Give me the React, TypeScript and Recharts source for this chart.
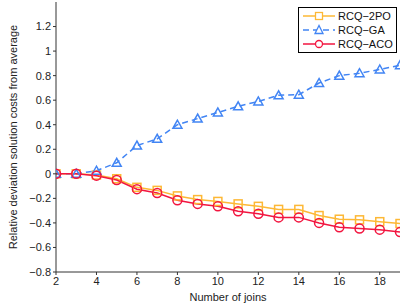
import { LineChart, Line, XAxis, YAxis } from 'recharts';

const joins = [2, 3, 4, 5, 6, 7, 8, 9, 10, 11, 12, 13, 14, 15, 16, 17, 18, 19];
const rcq2po = [0, 0, -0.01, -0.04, -0.11, -0.135, -0.18, -0.21, -0.225, -0.245, -0.265, -0.29, -0.29, -0.34, -0.37, -0.375, -0.39, -0.405];
const rcqGa = [0, 0, 0.025, 0.09, 0.23, 0.285, 0.4, 0.45, 0.5, 0.55, 0.59, 0.64, 0.645, 0.74, 0.8, 0.82, 0.85, 0.885];
const rcqAco = [0, 0, -0.015, -0.05, -0.125, -0.157, -0.215, -0.245, -0.265, -0.305, -0.325, -0.355, -0.355, -0.4, -0.435, -0.445, -0.455, -0.475];
const xTicks = [2, 4, 6, 8, 10, 12, 14, 16, 18];
const yTicks = [-0.8, -0.6, -0.4, -0.2, 0, 0.2, 0.4, 0.6, 0.8, 1, 1.2];

const data = joins.map((j, i) => ({ joins: j, po: rcq2po[i], ga: rcqGa[i], aco: rcqAco[i] }));

const ORANGE = '#FDB835';
const BLUE = '#4285F4';
const RED = '#F2153F';
const FONT = 'Liberation Sans, Arial, sans-serif';

const Square = (props: any) => {
  const { cx, cy, index } = props;
  return <rect key={`s-${index}`} x={cx - 4} y={cy - 4} width={8} height={8} fill="none" stroke={ORANGE} strokeWidth={1.5} />;
};

const Triangle = (props: any) => {
  const { cx, cy, index } = props;
  return (
    <polygon
      key={`t-${index}`}
      points={`${cx},${cy - 4.5} ${cx - 4.5},${cy + 3.5} ${cx + 4.5},${cy + 3.5}`}
      fill="none"
      stroke={BLUE}
      strokeWidth={1.5}
    />
  );
};

const Circle = (props: any) => {
  const { cx, cy, index } = props;
  return <circle key={`c-${index}`} cx={cx} cy={cy} r={4.5} fill="none" stroke={RED} strokeWidth={1.5} />;
};

const legendItems = [
  { name: 'RCQ\u22122PO', color: ORANGE, dash: undefined, marker: 'square' },
  { name: 'RCQ\u2212GA', color: BLUE, dash: '6 4', marker: 'triangle' },
  { name: 'RCQ\u2212ACO', color: RED, dash: undefined, marker: 'circle' },
];

const LegendBox = () => (
  <div
    style={{
      position: 'absolute',
      left: 298,
      top: 7,
      width: 97,
      border: '1.5px solid #000',
      background: '#fff',
      padding: '1px 0',
      fontFamily: FONT,
      fontSize: 11,
      color: '#111',
      lineHeight: '14px',
    }}
  >
    {legendItems.map((it) => (
      <div key={it.name} style={{ display: 'flex', alignItems: 'center' }}>
        <svg width={38} height={14}>
          <line x1={4} y1={7} x2={36} y2={7} stroke={it.color} strokeWidth={1.5} strokeDasharray={it.dash} />
          {it.marker === 'square' && <rect x={16.5} y={3.5} width={7} height={7} fill="#fff" stroke={it.color} strokeWidth={1.3} />}
          {it.marker === 'triangle' && (
            <polygon points="20,2.5 16,10.5 24,10.5" fill="#fff" stroke={it.color} strokeWidth={1.3} />
          )}
          {it.marker === 'circle' && <circle cx={20} cy={7} r={3.5} fill="#fff" stroke={it.color} strokeWidth={1.3} />}
        </svg>
        <span style={{ marginLeft: 1 }}>{it.name}</span>
      </div>
    ))}
  </div>
);

const tickStyle = { fontSize: 11, fill: '#222', fontFamily: FONT };

export default function App() {
  return (
    <div style={{ position: 'absolute', left: 0, top: 0, width: 404, height: 306, background: '#fff' }}>
      <LineChart width={404} height={306} data={data} margin={{ top: 2, right: 4, bottom: 4, left: 0 }}>
        <XAxis
          dataKey="joins"
          type="number"
          domain={[2, 19]}
          ticks={xTicks}
          allowDataOverflow
          height={30}
          tick={tickStyle}
          tickSize={3}
          stroke="#333"
          label={{ value: 'Number of joins', position: 'insideBottom', offset: 1, style: tickStyle }}
        />
        <YAxis
          type="number"
          domain={[-0.8, 1.4]}
          ticks={yTicks}
          allowDataOverflow
          width={56}
          tick={tickStyle}
          tickSize={3}
          stroke="#333"
          tickFormatter={(v: number) => (v < 0 ? '\u2212' + String(Math.abs(v)) : String(v))}
          label={{
            value: 'Relative deviation solution costs from average',
            angle: -90,
            position: 'insideLeft',
            offset: 13,
            style: { ...tickStyle, textAnchor: 'middle' },
          }}
        />
        <Line dataKey="po" stroke={ORANGE} strokeWidth={1.5} dot={Square} isAnimationActive={false} />
        <Line dataKey="ga" stroke={BLUE} strokeWidth={1.5} strokeDasharray="6 4" dot={Triangle} isAnimationActive={false} />
        <Line dataKey="aco" stroke={RED} strokeWidth={1.5} dot={Circle} isAnimationActive={false} />
      </LineChart>
      <LegendBox />
    </div>
  );
}
